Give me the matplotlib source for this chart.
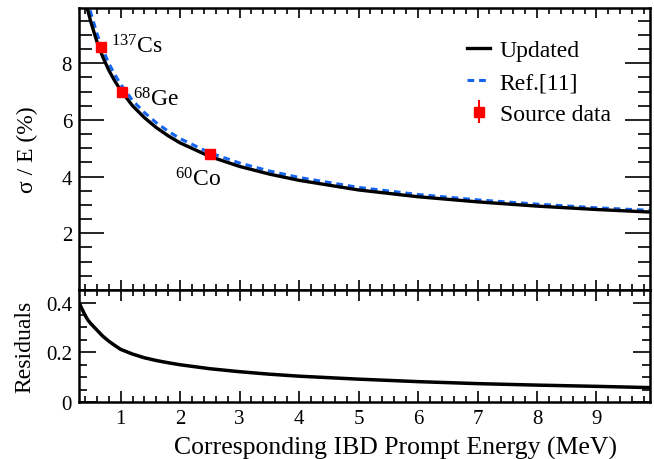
import matplotlib
matplotlib.use("Agg")
import matplotlib.pyplot as plt
from matplotlib.ticker import MultipleLocator, FuncFormatter

plt.rcParams['font.family'] = ['Liberation Serif', 'DejaVu Serif']
plt.rcParams['mathtext.fontset'] = 'custom'
plt.rcParams['mathtext.rm'] = 'Liberation Serif'
plt.rcParams['mathtext.it'] = 'Liberation Serif:italic'

# ---- data ----
energy = [0.30, 0.35, 0.40, 0.45, 0.50, 0.60, 0.70, 0.80, 0.90, 1.0, 1.2, 1.4,
          1.6, 1.8, 2.0, 2.5, 3.0, 3.5, 4.0, 5.0, 6.0, 7.0, 8.0, 9.0, 9.9]
updated = [11.42, 10.83, 10.31, 9.85, 9.45, 8.77, 8.22, 7.76, 7.38, 7.05, 6.50, 6.08,
           5.73, 5.44, 5.19, 4.71, 4.36, 4.09, 3.87, 3.53, 3.29, 3.11, 2.96, 2.84, 2.75]
ref11 = [11.82, 11.21, 10.66, 10.18, 9.77, 9.06, 8.49, 8.00, 7.61, 7.26, 6.69, 6.26,
         5.90, 5.60, 5.34, 4.84, 4.48, 4.20, 3.97, 3.62, 3.37, 3.18, 3.03, 2.90, 2.81]
residuals = [0.400, 0.375, 0.350, 0.330, 0.315, 0.290, 0.265, 0.245, 0.228, 0.212, 0.193, 0.178,
             0.167, 0.158, 0.150, 0.134, 0.122, 0.112, 0.104, 0.092, 0.082, 0.074, 0.068, 0.063, 0.058]

src_energy = [0.662, 1.022, 2.506]
src_sigma = [8.58, 6.98, 4.79]
src_err = [0.08, 0.08, 0.08]
src_names = [r'$^{137}$Cs', r'$^{68}$Ge', r'$^{60}$Co']
src_label_x = [0.84, 1.21, 1.91]
src_label_y = [8.39, 6.50, 3.67]

xlim = (0.3, 9.9)

fig = plt.figure(figsize=(6.54, 4.60), dpi=100)
W, H = 654, 460
left, right = 79 / W, 650 / W
ax1 = fig.add_axes([left, 1 - 291 / H, right - left, (291 - 9) / H])
ax2 = fig.add_axes([left, 1 - 403 / H, right - left, (403 - 291) / H])

# top panel
ax1.plot(energy, updated, color='black', lw=2.4, label='Updated', zorder=3)
ax1.plot(energy, ref11, color='#1464f0', lw=2.2, ls=(0, (2.2, 1.6)), label='Ref.[11]', zorder=2)
ax1.errorbar(src_energy, src_sigma, yerr=src_err, fmt='s', color='red', ms=6.5,
             elinewidth=1.5, capsize=0, label='Source data', zorder=4)
for name, tx, ty in zip(src_names, src_label_x, src_label_y):
    ax1.text(tx, ty, name, fontsize=17, va='baseline', ha='left')

ax1.set_xlim(*xlim)
ax1.set_ylim(0, 9.95)
ax1.set_yticks([2, 4, 6, 8])
ax1.yaxis.set_minor_locator(MultipleLocator(0.5))
ax1.xaxis.set_major_locator(MultipleLocator(1))
ax1.xaxis.set_minor_locator(MultipleLocator(0.2))
ax1.tick_params(axis='x', labelbottom=False)
ax1.set_ylabel('σ / E (%)', fontsize=17)
ax1.yaxis.set_label_coords(-0.072, 0.5)

leg = ax1.legend(loc='upper left', bbox_to_anchor=(0.679, 0.888), frameon=False,
                 fontsize=17, handlelength=1.0, handletextpad=0.4, labelspacing=0.44,
                 borderpad=0, borderaxespad=0)

# bottom panel
ax2.plot(energy, residuals, color='black', lw=2.5)
ax2.set_xlim(*xlim)
ax2.set_ylim(0, 0.451)
ax2.yaxis.set_major_locator(MultipleLocator(0.2))
ax2.yaxis.set_minor_locator(MultipleLocator(0.05))
ax2.xaxis.set_major_locator(MultipleLocator(1))
ax2.xaxis.set_minor_locator(MultipleLocator(0.2))
ax2.yaxis.set_major_formatter(FuncFormatter(lambda v, p: '%g' % round(v, 2)))
ax2.set_xticks([1, 2, 3, 4, 5, 6, 7, 8, 9])
ax2.set_xlabel('Corresponding IBD Prompt Energy (MeV)', fontsize=18.5, ha='right')
ax2.xaxis.set_label_coords(0.942, -0.30)
ax2.set_ylabel('Residuals', fontsize=17)
ax2.yaxis.set_label_coords(-0.077, 0.5)

for ax in (ax1, ax2):
    for s in ax.spines.values():
        s.set_linewidth(1.8)
    ax.tick_params(which='both', direction='in', top=True, right=True, width=1.2,
                   labelsize=15, pad=5)

ax1.tick_params(axis='y', which='major', length=18)
ax1.tick_params(axis='y', which='minor', length=9)
ax1.tick_params(axis='x', which='major', length=7)
ax1.tick_params(axis='x', which='minor', length=4)
ax2.tick_params(axis='y', which='major', length=12)
ax2.tick_params(axis='y', which='minor', length=6)
ax2.tick_params(axis='x', which='major', length=8)
ax2.tick_params(axis='x', which='minor', length=4)

fig.savefig('out.png', dpi=100)
